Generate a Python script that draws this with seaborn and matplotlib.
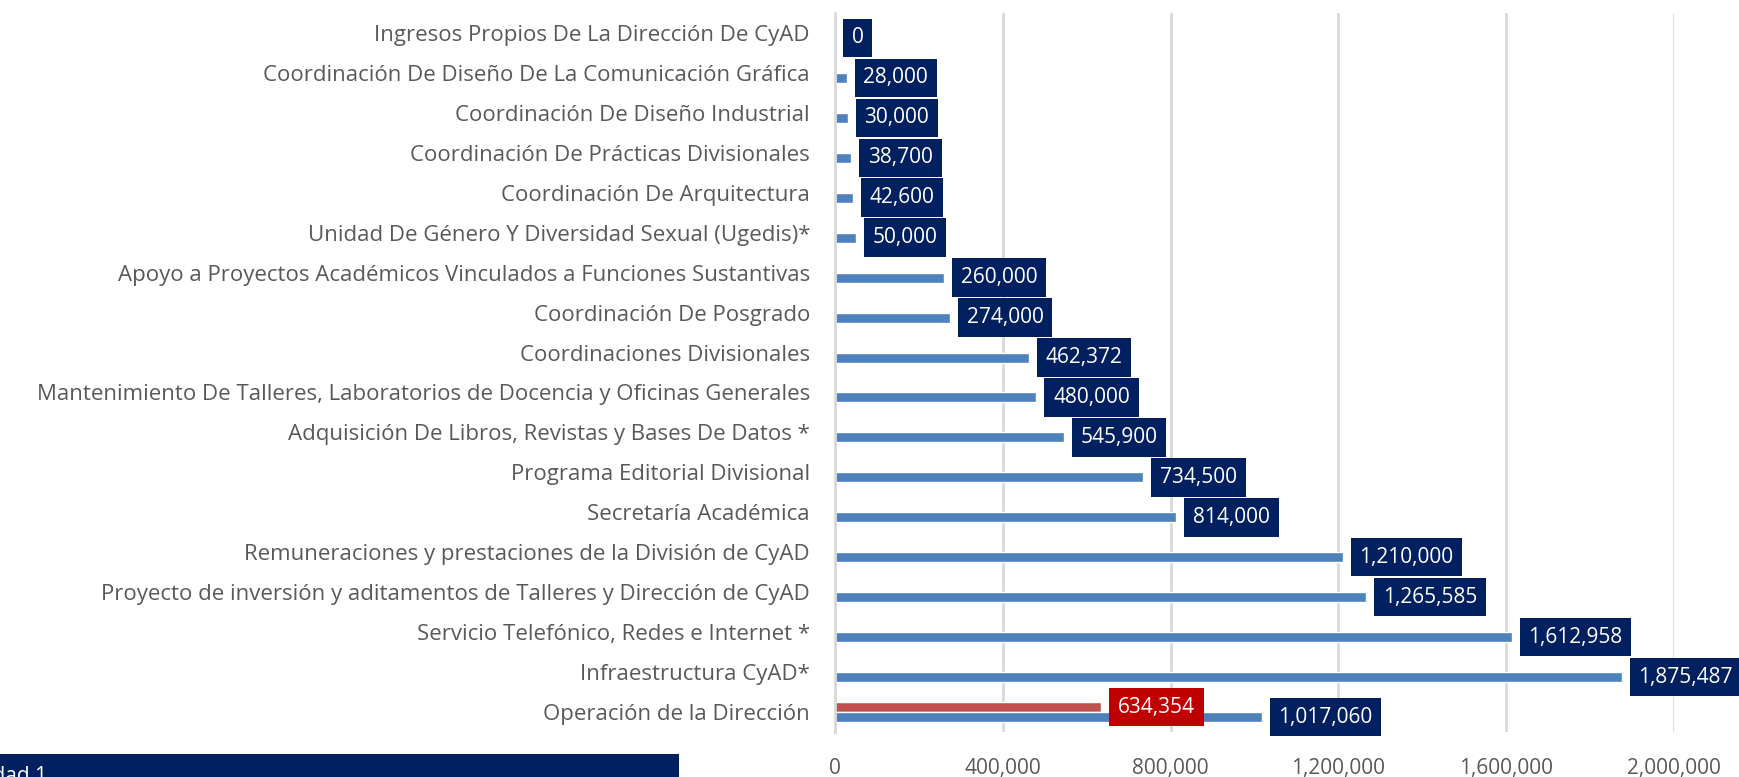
import matplotlib
matplotlib.use("Agg")
import matplotlib.pyplot as plt
import seaborn as sns
import pandas as pd
import numpy as np
from matplotlib.patches import Rectangle

categorias = [
    "Ingresos Propios De La Dirección De CyAD",
    "Coordinación De Diseño De La Comunicación Gráfica",
    "Coordinación De Diseño Industrial",
    "Coordinación De Prácticas Divisionales",
    "Coordinación De Arquitectura",
    "Unidad De Género Y Diversidad Sexual (Ugedis)*",
    "Apoyo a Proyectos Académicos Vinculados a Funciones Sustantivas",
    "Coordinación De Posgrado",
    "Coordinaciones Divisionales",
    "Mantenimiento De Talleres, Laboratorios de Docencia y Oficinas Generales",
    "Adquisición De Libros, Revistas y Bases De Datos *",
    "Programa Editorial Divisional",
    "Secretaría Académica",
    "Remuneraciones y prestaciones de la División de CyAD",
    "Proyecto de inversión y aditamentos de Talleres y Dirección de CyAD",
    "Servicio Telefónico, Redes e Internet *",
    "Infraestructura CyAD*",
    "Operación de la Dirección",
]
valores_azul = [0, 28000, 30000, 38700, 42600, 50000, 260000, 274000, 462372,
                480000, 545900, 734500, 814000, 1210000, 1265585, 1612958,
                1875487, 1017060]
categorias_rojo = ["Operación de la Dirección"]
valores_rojo = [634354]
ticks_x = [0, 400000, 800000, 1200000, 1600000, 2000000]

series = ["rojo", "azul"]
colores = {"rojo": "#C0504D", "azul": "#4F81BD"}
cajas = {"rojo": "#C00000", "azul": "#002060"}

df = pd.concat([
    pd.DataFrame({"categoria": categorias_rojo, "valor": valores_rojo, "serie": "rojo"}),
    pd.DataFrame({"categoria": categorias, "valor": valores_azul, "serie": "azul"}),
])

sns.set_theme(style="white")
plt.rcParams["font.family"] = ["Open Sans", "DejaVu Sans"]

fig = plt.figure(figsize=(17.39, 7.77), dpi=100)
ax = fig.add_axes([835 / 1739, 1 - 732 / 777, (1674 - 835) / 1739, (732 - 13) / 777])

sns.barplot(data=df, y="categoria", x="valor", hue="serie", order=categorias,
            hue_order=series, palette=colores, orient="h", width=0.5,
            dodge=True, saturation=1, ax=ax, legend=False, errorbar=None)

ax.set_xlim(0, 2000000)
ax.set_ylim(len(categorias) - 0.5, -0.5)
ax.set_xticks(ticks_x)
ax.set_xticklabels([f"{t:,}" for t in ticks_x], fontsize=15, color="#595959")
ax.tick_params(axis="x", length=0, pad=19)
ax.tick_params(axis="y", length=0, pad=18, labelsize=16, labelcolor="#595959")
ax.set_xlabel("")
ax.set_ylabel("")
ax.grid(axis="x", color="#D9D9D9", linewidth=2)
ax.set_axisbelow(True)
for s in ["top", "right", "bottom"]:
    ax.spines[s].set_visible(False)
ax.spines["left"].set_color("#D9D9D9")
ax.spines["left"].set_linewidth(2)

for cont, serie in zip(ax.containers, series):
    vals = [b.get_width() for b in cont]
    labels = [f"{v:,.0f}" if not np.isnan(v) else "" for v in vals]
    ax.bar_label(cont, labels=labels, padding=12, color="white", fontsize=15,
                 clip_on=False,
                 bbox=dict(boxstyle="square,pad=0.42", facecolor=cajas[serie],
                           edgecolor="none"))

fig.add_artist(Rectangle((0, 0), 679 / 1739, 23 / 777, transform=fig.transFigure,
                         facecolor="#002060", edgecolor="none"))
fig.text(47 / 1739, 11 / 777, "Prioridad 1", ha="right", va="top", color="white",
         fontsize=15)

fig.savefig("out.png", dpi=100)
